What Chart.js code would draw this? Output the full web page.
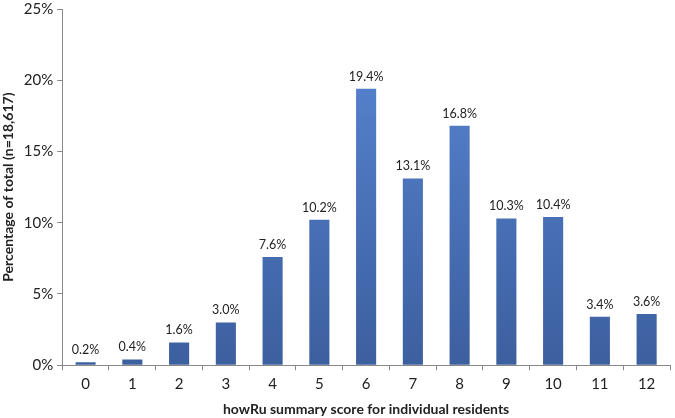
<!DOCTYPE html>
<html lang="en">
<head>
    <meta charset="UTF-8">
    <title>howRu scores</title>
    <script src="https://cdn.jsdelivr.net/npm/chart.js"></script>
    <style>
        html, body { margin: 0; padding: 0; background: #fff; }
        #wrap { width: 675px; height: 418px; }
    </style>
</head>
<body>
    <div id="wrap"><canvas id="scoreChart"></canvas></div>

    <script>
        // data
        const scores = ['0', '1', '2', '3', '4', '5', '6', '7', '8', '9', '10', '11', '12'];
        const percentages = [0.2, 0.4, 1.6, 3.0, 7.6, 10.2, 19.4, 13.1, 16.8, 10.3, 10.4, 3.4, 3.6];
        const yTicks = [0, 5, 10, 15, 20, 25];

        const fontFamily = "Lato, 'Open Sans', sans-serif";

        // bar gradient: lighter on top, darker at base
        function barFill(context) {
            const chart = context.chart;
            const area = chart.chartArea;
            if (!area) return '#4f78c4';
            const g = chart.ctx.createLinearGradient(0, area.top, 0, area.bottom);
            g.addColorStop(0, '#5a88d6');
            g.addColorStop(1, '#3c5f9f');
            return g;
        }

        // percent labels above each bar
        const valueLabels = {
            id: 'valueLabels',
            afterDatasetsDraw(chart) {
                const ctx = chart.ctx;
                const meta = chart.getDatasetMeta(0);
                ctx.save();
                ctx.font = '12.5px ' + fontFamily;
                ctx.fillStyle = '#222';
                ctx.textAlign = 'center';
                ctx.textBaseline = 'bottom';
                meta.data.forEach((bar, i) => {
                    ctx.fillText(percentages[i].toFixed(1) + '%', bar.x, bar.y - 6);
                });
                ctx.restore();
            }
        };

        new Chart(document.getElementById('scoreChart'), {
            type: 'bar',
            data: {
                labels: scores,
                datasets: [{
                    data: percentages,
                    backgroundColor: barFill,
                    borderWidth: 0,
                    categoryPercentage: 1,
                    barPercentage: 0.43
                }]
            },
            options: {
                responsive: true,
                maintainAspectRatio: false,
                animation: false,
                layout: { padding: { top: 9, right: 5, left: 0, bottom: 0 } },
                plugins: {
                    legend: { display: false },
                    tooltip: { enabled: false }
                },
                scales: {
                    x: {
                        grid: {
                            offset: true,
                            drawOnChartArea: false,
                            drawTicks: true,
                            tickLength: 5,
                            color: '#888'
                        },
                        border: { color: '#888', width: 1 },
                        ticks: {
                            color: '#222',
                            font: { family: fontFamily, size: 15 },
                            padding: 5
                        },
                        title: {
                            display: true,
                            text: 'howRu summary score for individual residents',
                            color: '#222',
                            font: { family: fontFamily, size: 14, weight: 'bold' },
                            padding: { top: 3, bottom: 0 }
                        }
                    },
                    y: {
                        min: 0,
                        max: 25,
                        afterBuildTicks(axis) {
                            axis.ticks = yTicks.map(v => ({ value: v }));
                        },
                        afterFit(axis) {
                            // let the top tick label sit against the edge like the original
                            axis.paddingTop = 0;
                        },
                        grid: {
                            drawOnChartArea: false,
                            drawTicks: true,
                            tickLength: 5,
                            color: '#888'
                        },
                        border: { color: '#888', width: 1 },
                        ticks: {
                            color: '#222',
                            font: { family: fontFamily, size: 15 },
                            padding: 4,
                            callback: v => v + '%'
                        },
                        title: {
                            display: true,
                            text: 'Percentage of total (n=18,617)',
                            color: '#222',
                            font: { family: fontFamily, size: 14, weight: 'bold' },
                            padding: { top: 0, bottom: 3 }
                        }
                    }
                }
            },
            plugins: [valueLabels]
        });
    </script>
</body>
</html>
